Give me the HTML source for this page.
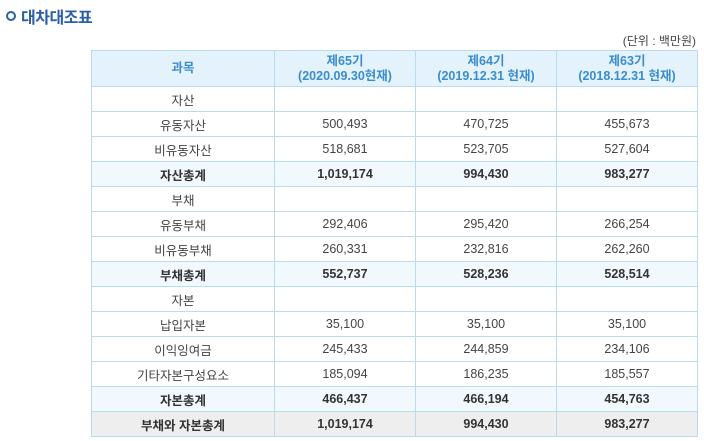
<!DOCTYPE html>
<html><head><meta charset="utf-8"><style>
body{margin:0;width:704px;height:441px;background:#fff;font-family:"Liberation Sans","Noto Sans CJK KR",sans-serif;position:relative;overflow:hidden}
.title{position:absolute;left:6px;top:4px;font-size:16px;font-weight:bold;color:#2b5fa5;letter-spacing:-0.5px}
.title .dot{display:inline-block;width:6px;height:6px;border:2px solid #2b5fa5;border-radius:50%;margin-right:5px;vertical-align:2px}
.unit{position:absolute;right:8px;top:32px;font-size:12px;color:#444}
table{position:absolute;left:91px;top:50px;border-collapse:collapse;font-size:12.5px;color:#444}
td,th{border:1px solid #b8dbee;text-align:center;padding:0;height:24px}
th{background:#e3f2fb;color:#3a8ccf;font-weight:bold;height:35px;line-height:15px;font-size:12.5px}
.c0{width:182px}.c1,.c2,.c3{width:140px}
tr.tot td{background:#f1f9fe;font-weight:bold;color:#333}
tr.grand td{background:#eeeeee;font-weight:bold;color:#333}
</style></head><body>
<div class="title"><span class="dot"></span>대차대조표</div>
<div class="unit">(단위 : 백만원)</div>
<table>
<tr><th class="c0">과목</th><th class="c1">제65기<br>(2020.09.30현재)</th><th class="c2">제64기<br>(2019.12.31 현재)</th><th class="c3">제63기<br>(2018.12.31 현재)</th></tr>
<tr><td>자산</td><td></td><td></td><td></td></tr>
<tr><td>유동자산</td><td>500,493</td><td>470,725</td><td>455,673</td></tr>
<tr><td>비유동자산</td><td>518,681</td><td>523,705</td><td>527,604</td></tr>
<tr class="tot"><td>자산총계</td><td>1,019,174</td><td>994,430</td><td>983,277</td></tr>
<tr><td>부채</td><td></td><td></td><td></td></tr>
<tr><td>유동부채</td><td>292,406</td><td>295,420</td><td>266,254</td></tr>
<tr><td>비유동부채</td><td>260,331</td><td>232,816</td><td>262,260</td></tr>
<tr class="tot"><td>부채총계</td><td>552,737</td><td>528,236</td><td>528,514</td></tr>
<tr><td>자본</td><td></td><td></td><td></td></tr>
<tr><td>납입자본</td><td>35,100</td><td>35,100</td><td>35,100</td></tr>
<tr><td>이익잉여금</td><td>245,433</td><td>244,859</td><td>234,106</td></tr>
<tr><td>기타자본구성요소</td><td>185,094</td><td>186,235</td><td>185,557</td></tr>
<tr class="tot"><td>자본총계</td><td>466,437</td><td>466,194</td><td>454,763</td></tr>
<tr class="grand"><td>부채와 자본총계</td><td>1,019,174</td><td>994,430</td><td>983,277</td></tr>
</table>
</body></html>
